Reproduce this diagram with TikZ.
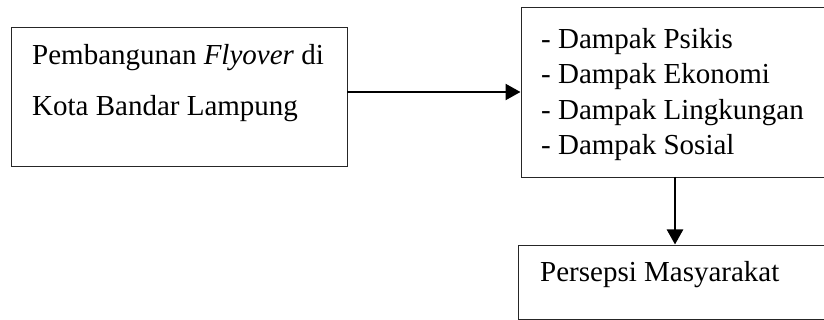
\documentclass[tikz,border=0pt]{standalone}
\usepackage{fontspec}
\setmainfont{Liberation Serif}
\usetikzlibrary{arrows.meta}
\begin{document}
\begin{tikzpicture}[x=1pt,y=-1pt,
  boxline/.style={draw=black!85,line width=0.9pt},
  txt/.style={anchor=base west,inner sep=0pt,font=\fontsize{29}{35}\selectfont},
  conn/.style={line width=2.4pt,-{Triangle[length=15pt,width=16pt]}}]
\useasboundingbox (0,0) rectangle (824,320);
\clip (0,0) rectangle (824,320);
\coordinate (b1nw) at (11,27);
\coordinate (b1se) at (347,166);
\coordinate (b2nw) at (521,7);
\coordinate (b2se) at (828,177);
\coordinate (b3nw) at (518,245);
\coordinate (b3se) at (828,319);
\draw[boxline] (b1nw) rectangle (b1se);
\draw[boxline] (b2nw) rectangle (b2se);
\draw[boxline] (b3nw) rectangle (b3se);
\node[txt] (t1a) at (32,64.3) {Pembangunan \textit{Flyover} di};
\node[txt] (t1b) at (32,115.7) {Kota Bandar Lampung};
\node[txt] (t2a) at (541,48.3) {- Dampak Psikis};
\node[txt] (t2b) at (541,84) {- Dampak Ekonomi};
\node[txt] (t2c) at (541,119.5) {- Dampak Lingkungan};
\node[txt] (t2d) at (541,155) {- Dampak Sosial};
\node[txt] (t3) at (540,281) {Persepsi Masyarakat};
\coordinate (a1s) at (347,92);
\coordinate (a1e) at (520.5,92);
\coordinate (a2s) at (675,177);
\coordinate (a2e) at (675,244.5);
\draw[conn] (a1s) -- (a1e);
\draw[conn] (a2s) -- (a2e);
\end{tikzpicture}
\end{document}
